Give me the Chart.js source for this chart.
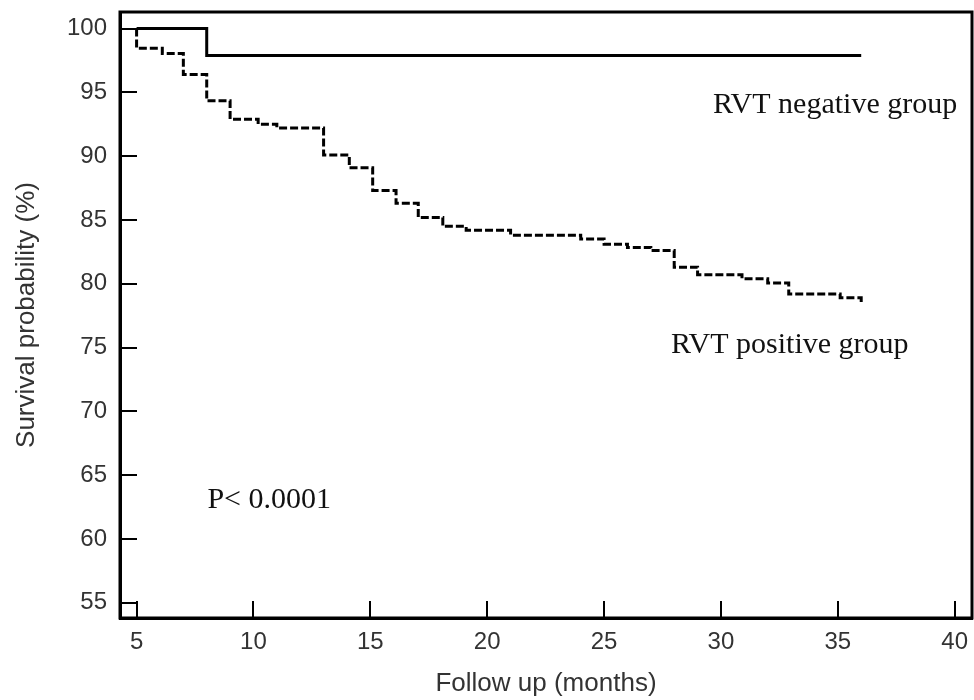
<!DOCTYPE html>
<html>
<head>
<meta charset="utf-8">
<script src="https://cdn.jsdelivr.net/npm/chart.js@4/dist/chart.umd.min.js"></script>
<style>
  html, body { margin: 0; padding: 0; background: #fff; }
  #wrap { width: 974px; height: 700px; }
</style>
</head>
<body>
<div id="wrap"><canvas id="c" width="974" height="700"></canvas></div>
<script>
// ---- Data ----
const xTicks = [5, 10, 15, 20, 25, 30, 35, 40];
const yTicks = [55, 60, 65, 70, 75, 80, 85, 90, 95, 100];

const negMonths = [5, 8, 36];
const negSurvival = [100, 97.9, 97.9];

const posMonths = [5, 5, 6.1, 7.0, 8.0, 9.0, 10.2, 11.0, 13.0, 14.1, 15.1, 16.1, 17.05, 18.1, 19.1, 21.0, 24.0, 25.0, 26.0, 27.0, 28.0, 29.0, 30.9, 32.0, 32.9, 35.1, 36.0];
const posSurvival = [100, 98.45, 98.05, 96.4, 94.35, 92.9, 92.5, 92.2, 90.1, 89.1, 87.3, 86.3, 85.2, 84.5, 84.2, 83.8, 83.5, 83.1, 82.85, 82.6, 81.3, 80.7, 80.4, 80.05, 79.2, 78.9, 78.55];

const labelTexts = ["RVT negative group", "RVT positive group", "P< 0.0001"];
const labelMonths = [29.66, 27.86, 8.03];
const labelSurvival = [93.4, 74.6, 62.4];

// ---- Chart ----
const toPoints = (xs, ys) => xs.map((x, i) => ({ x: x, y: ys[i] }));

const frameAndTicks = {
  id: 'frameAndTicks',
  afterDraw(chart) {
    const { ctx, chartArea: a, scales: { x, y } } = chart;
    ctx.save();
    ctx.strokeStyle = '#000';
    ctx.lineWidth = 3;
    ctx.beginPath();
    ctx.rect(a.left, a.top, a.right - a.left, a.bottom - a.top);
    ctx.stroke();
    ctx.lineWidth = 2;
    ctx.beginPath();
    xTicks.forEach(v => {
      const px = Math.round(x.getPixelForValue(v));
      ctx.moveTo(px, a.bottom);
      ctx.lineTo(px, a.bottom - 17);
    });
    yTicks.forEach(v => {
      const py = Math.round(y.getPixelForValue(v));
      ctx.moveTo(a.left, py);
      ctx.lineTo(a.left + 17, py);
    });
    ctx.stroke();
    ctx.restore();
  }
};

const textLabels = {
  id: 'textLabels',
  afterDatasetsDraw(chart) {
    const { ctx, scales: { x, y } } = chart;
    ctx.save();
    ctx.fillStyle = '#111';
    ctx.font = "30px 'Liberation Serif', 'Times New Roman', serif";
    ctx.textAlign = 'left';
    ctx.textBaseline = 'alphabetic';
    labelTexts.forEach((t, i) => {
      ctx.fillText(t, x.getPixelForValue(labelMonths[i]), y.getPixelForValue(labelSurvival[i]));
    });
    ctx.restore();
  }
};

new Chart(document.getElementById('c'), {
  type: 'line',
  data: {
    datasets: [
      {
        label: 'RVT negative group',
        data: toPoints(negMonths, negSurvival),
        borderColor: '#000',
        borderWidth: 3,
        stepped: 'before',
        pointRadius: 0,
        fill: false
      },
      {
        label: 'RVT positive group',
        data: toPoints(posMonths, posSurvival),
        borderColor: '#000',
        borderWidth: 3,
        borderDash: [8, 3],
        stepped: 'before',
        pointRadius: 0,
        fill: false
      }
    ]
  },
  options: {
    responsive: false,
    animation: false,
    layout: { padding: { top: 12, right: 2, left: 0, bottom: 0 } },
    plugins: { legend: { display: false }, tooltip: { enabled: false } },
    scales: {
      x: {
        type: 'linear',
        min: 4.29,
        max: 40.74,
        afterBuildTicks: s => { s.ticks = xTicks.map(v => ({ value: v })); },
        afterFit: s => { s.height = 82; s.paddingLeft = 0; s.paddingRight = 0; },
        grid: { display: false, drawTicks: false },
        border: { display: true, color: '#000', width: 3 },
        ticks: {
          color: '#333',
          padding: 10,
          maxRotation: 0,
          autoSkip: false,
          font: { family: "'Liberation Sans', Arial, sans-serif", size: 24 }
        },
        title: {
          display: true,
          text: 'Follow up (months)',
          color: '#333',
          padding: { top: 0, bottom: 1 },
          font: { family: "'Liberation Sans', Arial, sans-serif", size: 26 }
        }
      },
      y: {
        type: 'linear',
        min: 53.8,
        max: 101.3,
        afterBuildTicks: s => { s.ticks = yTicks.map(v => ({ value: v })); },
        afterFit: s => { s.width = 120; s.paddingTop = 0; s.paddingBottom = 0; },
        grid: { display: false, drawTicks: false },
        border: { display: true, color: '#000', width: 3 },
        ticks: {
          color: '#333',
          padding: 13,
          autoSkip: false,
          font: { family: "'Liberation Sans', Arial, sans-serif", size: 24 }
        },
        title: {
          display: true,
          text: 'Survival probability (%)',
          color: '#333',
          padding: { top: 11, bottom: 0 },
          font: { family: "'Liberation Sans', Arial, sans-serif", size: 26 }
        }
      }
    }
  },
  plugins: [frameAndTicks, textLabels]
});
</script>
</body>
</html>
